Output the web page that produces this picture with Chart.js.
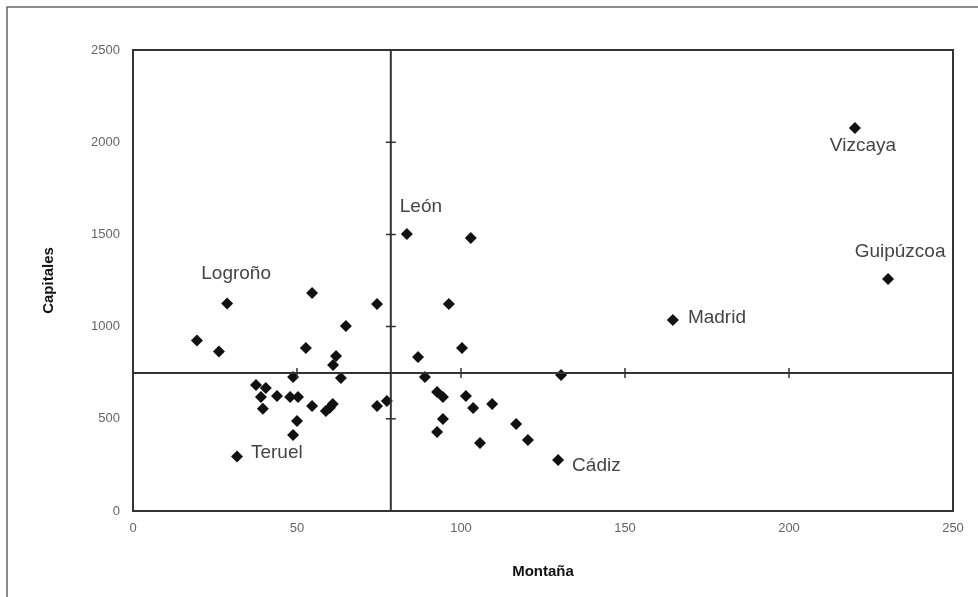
<!DOCTYPE html>
<html>
<head>
<meta charset="utf-8">
<script src="https://cdn.jsdelivr.net/npm/chart.js@4.4.1/dist/chart.umd.min.js"></script>
<style>
  html, body { margin: 0; padding: 0; background: #fff; }
  #wrap { width: 978px; height: 597px; }
</style>
</head>
<body>
<div id="wrap"><canvas id="myChart" width="978" height="597"></canvas></div>
<script>
// datos: Montaña (x) frente a Capitales (y)
const montana = [19.5, 26.2, 28.7, 31.7, 37.5, 40.5, 39.0, 39.6, 43.9, 47.9, 50.3, 48.8, 50.0, 48.8,
  54.6, 52.7, 54.6, 64.9, 61.9, 61.0, 63.4, 58.8, 60.0, 60.9, 74.4, 74.4, 77.4,
  83.5, 103.0, 96.3, 100.3, 86.9, 89.0, 130.5, 92.7, 94.5, 101.5, 103.7, 109.5, 94.5, 92.7,
  105.8, 116.8, 120.4, 129.6, 164.6, 220.1, 230.2];
const capitales = [925, 865, 1125, 295, 683, 667, 618, 555, 624, 618, 618, 727, 488, 412,
  1182, 884, 569, 1003, 841, 792, 721, 542, 560, 580, 1123, 569, 597,
  1502, 1480, 1123, 884, 835, 727, 738, 645, 618, 624, 559, 580, 499, 428,
  369, 472, 385, 277, 1036, 2077, 1258];
const nombres = ["", "", "Logroño", "Teruel", "", "", "", "", "", "", "", "", "", "",
  "", "", "", "", "", "", "", "", "", "", "", "", "",
  "León", "", "", "", "", "", "", "", "", "", "", "", "", "",
  "", "", "", "Cádiz", "Madrid", "Vizcaya", "Guipúzcoa"];
const xTicks = [0, 50, 100, 150, 200, 250];
const yTicks = [0, 500, 1000, 1500, 2000, 2500];
const mediaX = 78.6;   // media Montaña
const mediaY = 748;    // media Capitales

// desplazamiento de etiquetas respecto al punto (px)
const etiquetaPos = {
  "Logroño": { dx: 9, dy: -30, align: "center" },
  "León": { dx: 14, dy: -27, align: "center" },
  "Teruel": { dx: 14, dy: -4, align: "left" },
  "Cádiz": { dx: 14, dy: 6, align: "left" },
  "Madrid": { dx: 15, dy: -2, align: "left" },
  "Vizcaya": { dx: 8, dy: 18, align: "center" },
  "Guipúzcoa": { dx: 12, dy: -27, align: "center" },
};

const puntos = montana.map((x, i) => ({ x: x, y: capitales[i] }));

const marcoPlugin = {
  id: "marco",
  beforeDraw(chart) {
    const c = chart.ctx;
    c.save();
    c.fillStyle = "#fff";
    c.fillRect(0, 0, chart.width, chart.height);
    c.strokeStyle = "#666";
    c.lineWidth = 1.5;
    c.beginPath();
    c.moveTo(7, chart.height + 2);
    c.lineTo(7, 7);
    c.lineTo(chart.width + 2, 7);
    c.stroke();
    c.restore();
  },
  afterDatasetsDraw(chart) {
    const c = chart.ctx;
    const a = chart.chartArea;
    const sx = chart.scales.x, sy = chart.scales.y;
    const px = sx.getPixelForValue(mediaX);
    const py = sy.getPixelForValue(mediaY);
    c.save();
    c.strokeStyle = "#333";
    c.lineWidth = 2;
    c.strokeRect(a.left, a.top, a.right - a.left, a.bottom - a.top);
    c.beginPath();
    c.moveTo(px, a.top);
    c.lineTo(px, a.bottom);
    c.moveTo(a.left, py);
    c.lineTo(a.right, py);
    c.stroke();
    c.lineWidth = 1.5;
    c.beginPath();
    xTicks.slice(1, -1).forEach(v => {
      const t = sx.getPixelForValue(v);
      c.moveTo(t, py - 5);
      c.lineTo(t, py + 5);
    });
    yTicks.slice(1, -1).forEach(v => {
      const t = sy.getPixelForValue(v);
      c.moveTo(px - 5, t);
      c.lineTo(px + 5, t);
    });
    c.stroke();

    // etiquetas de provincias
    c.font = "19px 'Liberation Sans', Arial, sans-serif";
    c.fillStyle = "#444";
    c.textBaseline = "middle";
    nombres.forEach((n, i) => {
      if (!n) return;
      const o = etiquetaPos[n];
      c.textAlign = o.align;
      c.fillText(n, sx.getPixelForValue(montana[i]) + o.dx, sy.getPixelForValue(capitales[i]) + o.dy);
    });
    c.restore();
  },
};

const fuenteTicks = { family: "'Liberation Sans Narrow', 'Liberation Sans', Arial, sans-serif", size: 13 };
const fuenteTitulo = { family: "'Liberation Sans Narrow', 'Liberation Sans', Arial, sans-serif", size: 15, weight: "bold" };

new Chart(document.getElementById("myChart"), {
  type: "scatter",
  data: {
    datasets: [{
      data: puntos,
      pointStyle: "rectRot",
      radius: 6,
      hoverRadius: 6,
      backgroundColor: "#111",
      borderColor: "#111",
      borderWidth: 0,
    }],
  },
  options: {
    responsive: false,
    animation: false,
    events: [],
    layout: { padding: { top: 50, right: 25, left: 40, bottom: 0 } },
    plugins: { legend: { display: false }, tooltip: { enabled: false } },
    scales: {
      x: {
        type: "linear",
        min: 0,
        max: 250,
        afterBuildTicks: s => { s.ticks = xTicks.map(v => ({ value: v })); },
        afterFit: s => { s.height = 86; },
        grid: { display: false, drawTicks: false },
        border: { display: false },
        ticks: { color: "#666", font: fuenteTicks, padding: 10, callback: v => String(v) },
        title: { display: true, text: "Montaña", color: "#111", font: fuenteTitulo, padding: { top: 4, bottom: 16 } },
      },
      y: {
        type: "linear",
        min: 0,
        max: 2500,
        afterBuildTicks: s => { s.ticks = yTicks.map(v => ({ value: v })); },
        afterFit: s => { s.width = 93; },
        grid: { display: false, drawTicks: false },
        border: { display: false },
        ticks: { color: "#666", font: fuenteTicks, padding: 13, callback: v => String(v) },
        title: { display: true, text: "Capitales", color: "#111", font: fuenteTitulo, padding: 0 },
      },
    },
  },
  plugins: [marcoPlugin],
});
</script>
</body>
</html>
